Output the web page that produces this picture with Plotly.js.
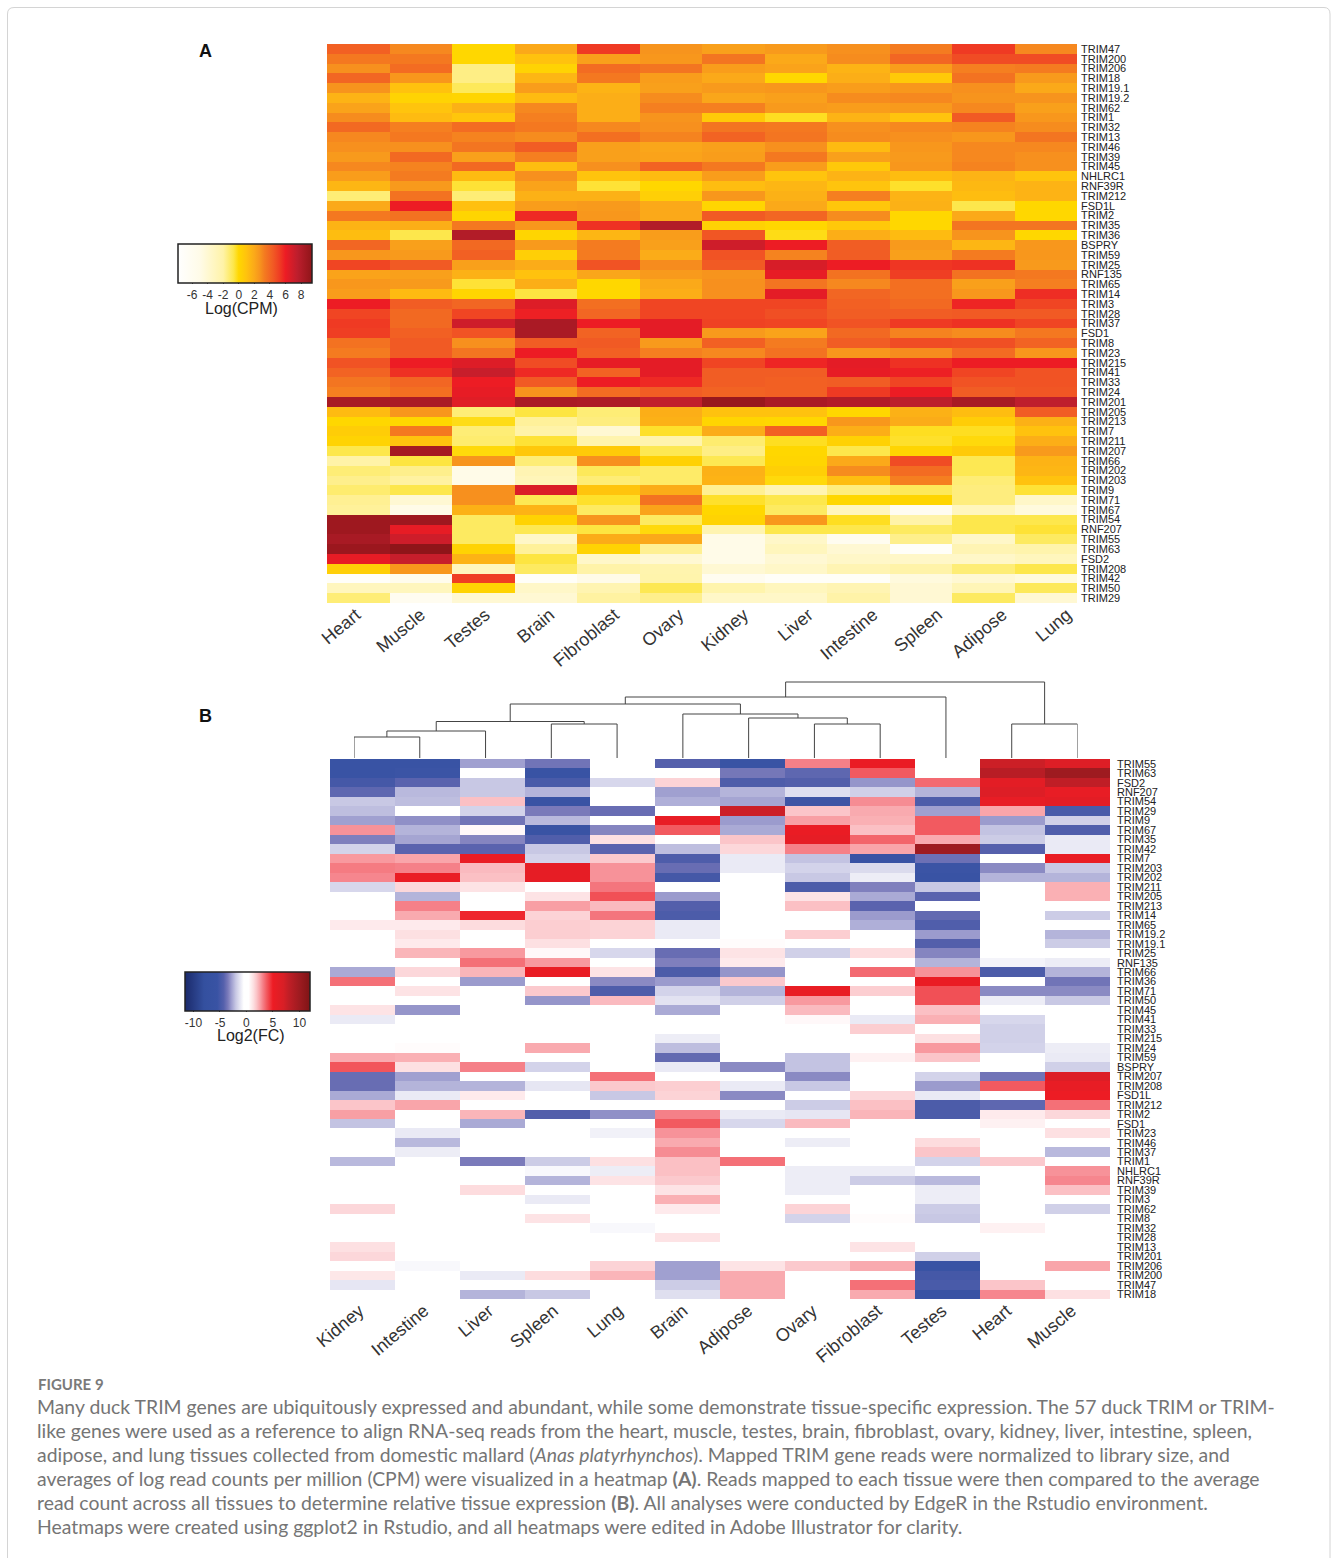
<!DOCTYPE html>
<html><head><meta charset="utf-8">
<script src="https://cdn.plot.ly/plotly-3.0.1.min.js"></script>
<style>html,body{margin:0;padding:0;background:#fff}#c{width:1331px;height:1558px}</style>
</head><body><div id="c"></div>
<script>
const tissuesA=["Heart","Muscle","Testes","Brain","Fibroblast","Ovary","Kidney","Liver","Intestine","Spleen","Adipose","Lung"];
const genesA=["TRIM47","TRIM200","TRIM206","TRIM18","TRIM19.1","TRIM19.2","TRIM62","TRIM1","TRIM32","TRIM13","TRIM46","TRIM39","TRIM45","NHLRC1","RNF39R","TRIM212","FSD1L","TRIM2","TRIM35","TRIM36","BSPRY","TRIM59","TRIM25","RNF135","TRIM65","TRIM14","TRIM3","TRIM28","TRIM37","FSD1","TRIM8","TRIM23","TRIM215","TRIM41","TRIM33","TRIM24","TRIM201","TRIM205","TRIM213","TRIM7","TRIM211","TRIM207","TRIM66","TRIM202","TRIM203","TRIM9","TRIM71","TRIM67","TRIM54","RNF207","TRIM55","TRIM63","FSD2","TRIM208","TRIM42","TRIM50","TRIM29"];
const valuesA=[
[4.2,3,0,2,5.3,2.7,2.3,2.5,2.8,3.3,5.3,3],
[3.4,3.4,0,1,2.3,2.6,3.5,2,2.9,4,4.8,4.8],
[2.8,3.8,-1.5,0.2,3.8,3.5,2.4,2.2,1.6,2.4,3.2,3.3],
[4,2.6,-1.5,1.5,3.4,2.4,2,0,1.8,0.6,3.6,2.5],
[2.7,1,-0.9,2.4,1.6,2.3,2.5,2.6,2.4,2.6,2.8,2],
[1.6,0.2,0.1,1.3,1.8,2.9,2.1,2.3,2.9,3,2.7,2.7],
[2.2,0.9,1.7,3,1.8,3.2,3.2,2.5,2.4,2.5,3,2.3],
[2.9,1.3,0.8,3.2,1.8,2.7,0.6,-0.3,1.6,0.9,4.4,2.6],
[3.9,3.2,3.8,3.4,3,2.8,3.5,3.4,2.8,3,3.1,2.9],
[3,3.4,3.1,2.9,3.7,3.1,4.1,3.5,2.9,2.8,2.6,3.5],
[2.8,2.8,3.5,4.3,2.3,2.1,2.3,2.8,1.3,2.6,3,3],
[2.5,3.9,2.3,3.2,2.3,2.2,2.4,3.4,2.3,2.5,3,2.8],
[3,3.1,3.9,1.2,2.8,4.1,3.4,2.4,0.7,2.6,3.1,2.8],
[2.4,3.3,1.3,2.8,0.9,1.3,2.4,0.9,1.6,1.2,1.6,0.9],
[1.5,2.5,-0.5,2.2,-0.5,0,1.2,1.5,0.9,-0.4,1.4,1.6],
[-1.3,3.6,-1.3,1.7,1.7,0.4,2.6,1.7,3.2,1.6,1.2,1.6],
[2,6,1.1,2.4,2.5,2,0.1,2,0.8,1.7,-0.7,0],
[3.4,3.6,0.1,5.7,2.6,2,4.4,4,2.9,0,2,0],
[1.6,1.8,3.4,2.6,5.5,8,0.3,0,0.7,0,3.5,3.5],
[1.2,-0.7,8,0.1,1.5,2.4,4.5,-0.2,1.8,1.3,2.7,0],
[4,2.3,3.9,2.5,3.3,2.3,7,6,4.3,2.5,1.5,2.6],
[2.6,2.5,4.2,0.4,3.3,1.9,4.6,3.1,4.3,2.3,3.3,2.6],
[5,4.4,2.3,1.9,4.6,2.9,4.4,6.7,6,5.4,5.5,2.5],
[2.2,2.3,1.7,1,2.1,2.5,2.7,6.2,3.6,5.2,3.6,3.4],
[2.6,2.5,-0.5,1.8,0,2,2.8,3.5,3,3.7,2.3,3.2],
[2.4,1.3,0.1,-0.6,0,1.8,2.8,6.3,4,3.7,2.6,5.6],
[6,4.3,4,6.5,3.7,5,5,5,4.2,3.9,5.8,5],
[5,3.9,5,5.9,4,5,5,4.7,4.3,4.3,4.4,4.4],
[5.3,3.9,7,8.3,6,6.3,5.1,5,4.6,5.3,5.5,5],
[5.2,4.2,4.6,8.3,4.1,6.3,2.5,2.2,3.9,3.1,2.9,3.4],
[3.6,4.4,2.8,4.3,4.4,2.5,4.2,3.3,4.3,4.8,4.7,4.1],
[3.3,4.4,3.5,6,4.2,3.2,3,3.6,2.6,2.9,3.8,2.6],
[4.6,6,6.5,4.8,6.2,6.3,5,5.8,6.3,5.5,6,6],
[4.1,5.5,7.2,5.7,4.1,6.3,4.3,4.3,6.2,5.9,5,4.6],
[3.5,4,6,4.4,6,5.7,4.3,4.2,4.3,5,4.6,4.6],
[3.2,3.7,6.2,2.7,3.8,4.3,4.1,4.2,5.3,6,4.3,4.5],
[8.4,8.3,6.4,8.3,8.2,7.4,9,8.3,8,7.6,8.4,7.5],
[1.3,2.6,-1.3,-0.6,-1.3,1.8,1,1,0,1.7,1.2,4.3],
[0,0,-0.2,-1.8,-1.4,1.7,0.1,0,2.6,1.9,0.5,1.7],
[0.5,3.4,-1.3,-2,-4,-0.4,1.9,4.2,1.8,-0.3,-0.3,1],
[0.2,1,-1.2,-0.5,-2.3,-2.3,-1.2,-0.3,0.3,-0.4,-0.1,1.8],
[-0.7,8.5,-0.1,0.7,0.6,-0.8,-1.5,0,-0.7,0.1,0.6,2.5],
[-2,-0.6,2.7,-1.3,2.8,0.3,-0.8,0.1,2,4.8,-0.8,1.6],
[-1.3,-1.6,-5,-2.5,-0.9,-1.1,1.7,0.4,2.9,3.8,-0.8,1.5],
[-1.6,-1.9,-5,-2.8,-1.3,-1.1,1.6,-0.1,1.2,3.2,-1.3,1],
[-1.2,-0.7,2.8,6.6,0.9,1.9,-1.7,-2.5,-1.4,-0.9,-1.4,-0.5],
[-1.7,-4,2.8,-0.8,-0.4,3.6,-0.4,-0.7,0,0.1,-1.4,-3.5],
[-1.8,-5,1.7,1.6,-1,2.2,0,-1,-3,-6,-3,-4.5],
[8.8,8.8,-1,0.2,2.7,-1,0.2,2.6,-0.3,-2,-0.7,-0.7],
[8.8,6.2,-1,-0.8,-0.6,-0.1,-2.4,-0.7,-0.7,-1,-0.7,-0.5],
[8.4,7,-1,-3.5,1.9,2,-5,-3.5,-6,-1.6,-3.5,-1],
[8.9,9.5,0.2,-1.8,0.2,-1.7,-5,-3,-4,-7,-2.5,-2.2],
[6.2,7.2,1.6,-0.6,-3.5,-4,-5,-4,-3.5,-3.5,-3.5,-3],
[0.4,2.6,-3,-1,-2,-2.3,-4,-3.5,-2.5,-2,-1.3,-0.7],
[-7,-5.5,5.2,-7,-5,-2.2,-6,-7,-7,-4.5,-4,-4.5],
[-3,-3,0.2,-3.5,-2.4,-0.8,-2.2,-3,-2.5,-4,-2.7,-0.9],
[-1.3,-6,-4,-4,-1.9,-1.6,-3.5,-3.5,-2,-4,-1,-4]
];
const tissuesB=["Kidney","Intestine","Liver","Spleen","Lung","Brain","Adipose","Ovary","Fibroblast","Testes","Heart","Muscle"];
const genesB=["TRIM55","TRIM63","FSD2","RNF207","TRIM54","TRIM29","TRIM9","TRIM67","TRIM35","TRIM42","TRIM7","TRIM203","TRIM202","TRIM211","TRIM205","TRIM213","TRIM14","TRIM65","TRIM19.2","TRIM19.1","TRIM25","RNF135","TRIM66","TRIM36","TRIM71","TRIM50","TRIM45","TRIM41","TRIM33","TRIM215","TRIM24","TRIM59","BSPRY","TRIM207","TRIM208","FSD1L","TRIM212","TRIM2","FSD1","TRIM23","TRIM46","TRIM37","TRIM1","NHLRC1","RNF39R","TRIM39","TRIM3","TRIM62","TRIM8","TRIM32","TRIM28","TRIM13","TRIM201","TRIM206","TRIM200","TRIM47","TRIM18"];
const valuesB=[
[-5.5,-5.5,-2.8,-3.7,0,-4.3,-5.5,3.1,5.3,0,7.5,6.5],
[-5.5,-5.4,0,-5.5,0.4,0,-3.6,-4.1,3.8,0.2,8.5,10],
[-5,-4.2,-2,-4.8,-1.6,1.6,-4.6,-4.4,-3,3.5,6,8],
[-4.1,-2.3,-2,-2.4,0,-2.8,-2.4,-1.4,-1.8,-2.4,6.5,5.5],
[-2,-2.2,2,-5.5,0,-2.5,-2.7,-5.3,2.9,-4.6,5.5,6],
[-2.2,0,-1.7,-3.5,-3.9,0,7.5,1.9,2.4,-2.8,2.5,-4.8],
[-2.8,-3.1,-3.7,-2.3,-0.3,5.5,-2.9,2.6,2.3,3.8,-2.9,-1.8],
[2.8,-2.4,0.6,-5.5,-3.3,3.8,-2.6,5.3,2,3.8,-2.1,-4.5],
[-3.4,-2.7,-3.3,-4.5,1.3,0,1.9,5.7,3.6,2.4,-1.9,-1.1],
[-1.7,-4.2,-4.2,-2,-4.2,-2.2,1.5,3.1,2.5,10,-4.3,-1.1],
[2.7,2.5,5.4,-1.7,1.8,-4.6,-1.1,-2.1,-5.7,-3.8,0,5.4],
[3.2,3.1,2.1,5.7,2.8,-3.9,-1.1,-1.7,-1.5,-5.4,-3.2,-2],
[3,5.3,2,5.7,2.8,-5,0,-2,-1,-5.5,-2.4,-2.4],
[-1.6,1.5,1.2,0,3.3,0,0,-4.7,-3.4,-2,0,2.3],
[0,-2.4,0,1.2,4,-2.9,0,1.2,-2.6,-4.2,0,2.3],
[0,3.1,0,2.6,2.1,-4.4,0,2,-4.2,0,0,0],
[0,2.4,4.8,1.6,3.3,-4.7,0,0,-2.9,-4,0,-1.9],
[1,1,1.4,1.7,1.6,-1.1,0,0,-2.5,-4.5,0,0],
[0,1.3,0,1.7,1.6,-1.1,0,1.7,0,-2.9,0,-2.4],
[0.3,1,0,1.3,0,0,0.5,0,0,-4.4,0,-1.9],
[0,2.2,2.7,0.6,-1.6,-3.9,1.2,-1.8,1.4,-3.3,0,0.3],
[0,0,3.4,2.7,0,-3.4,1,0,0,-2.4,-0.8,-1],
[-2.6,1.5,2.2,5.4,1.2,-4.7,-3,0,3.5,2.8,-4.7,-2.4],
[3.4,0,-2.9,0,-3.2,-2.9,1.8,0,0,5.3,-0.5,-3.7],
[0,1.2,0,1.8,-4.6,-1.7,-2.4,5.4,1.7,4,-3.2,-3.2],
[0,0,0,-3,2.1,-1.3,-1.8,2.7,0,4,-1,-2],
[1.2,-3,0,0,0,-2.6,0,2.1,0,2,0,0],
[-1.1,0,0,0,0,0,0,0.6,-1.1,2.3,-1.6,0],
[0,0,0,0,0,0,0,0,1.7,0,-1.8,0],
[0,0,0,0,0,-1,0,0,0,1.3,-1.8,0],
[0,0.5,0,2.4,0,-2.2,0,0,0,2.7,-1.7,-1],
[2.4,2.3,0,0,0,-4,0,-2.1,0.8,1.9,0,-1.1],
[3.9,1.3,3.1,-1.7,-0.2,-1.1,-3.2,-2.1,0,0,0,-1.8],
[-3.9,-2.8,0,0,3.4,0,0,-3.2,0,-1.7,-3.7,6.5],
[-3.9,-2.4,-2.4,-1.2,1.8,1.7,-1.1,-2,0,-2.9,3.8,5.5],
[-2.6,-1.1,1,0,-2,1.6,-3.2,0,1.5,-1.1,0,5],
[1.9,2.5,0,0,0,0,0,-1.9,2,-4.7,-4.1,3.4],
[2.6,0.3,2.2,-4.4,-3.1,3.1,-1.1,-1.2,2.2,-4.7,1,1.5],
[-2.1,0,-2.6,0,-0.4,3.8,-1.6,2.1,0,0,0.8,0],
[0,-1.1,0,0,-0.9,2.8,0,0,0,0,0,1.3],
[0,-2.3,0,0,0,2.4,0,-1,0,1.4,0,0],
[0,-1,0,0,0,2.9,0,0.2,0,1.9,0,-2.3],
[-2.3,0,-3.5,-1.9,1.3,2,3.4,0,0,-1.7,1.8,0],
[0,0,0,-0.7,-1,2,0,-1,-1,0,0.3,2.8],
[0,0,0,-2.4,1.2,1.8,0,-1,-1.9,-2.3,0,3],
[0,0,1.4,0,0,1.2,0,-1,0,-1,0,2],
[0,0,0,-1.1,0,2.3,0,0,0,-1,0,0],
[1.5,0,0,0,0,1,0,1.6,0,-1.9,0,-1.8],
[0,0,0,1.2,0,0,0,-1.7,0.5,-2,0,0],
[0,0,0,0,-0.7,0,0,0,0,0,0.8,0],
[0,0,0,0,0,1.2,0,0,0,0,0,0],
[1.3,0,0,-0.2,0,0,-0.3,0,1.2,0,0,0],
[1.5,0,0,0,0,0,0,0,0,-1.8,0,0],
[0,-0.7,0,0,1.6,-2.8,1.2,1.8,2.4,-5.5,0,2.5],
[1.1,0,-1.1,1.4,2.2,-2.8,2.4,0,0,-5,0,0],
[-1.2,0,0,0,0,-1.9,2.4,0,3.4,-4.8,1.9,0],
[0,0,-2.4,-2,0,-1.4,2.4,0,2.4,-5.5,3,1.3]
];
// dendrogram merges over tissuesB: [child, child, height]; a child is a leaf index or "m"+merge index
const merges=[[0,1,21],["m0",2,27],[3,4,34],["m1","m2",36.5],[7,8,34],[6,"m4",40],[5,"m5",44],["m3","m6",54],["m7",9,61],[10,11,34],["m8","m9",76]];
const stopsA=[[-7.8,"#ffffff"],[-5,"#fffbe8"],[-2,"#fff3a8"],[-0.7,"#fde74c"],[0,"#ffd700"],[1,"#ffc20e"],[2,"#fba919"],[2.7,"#f7941d"],[3.3,"#f47b20"],[4.4,"#f15a24"],[5.2,"#ef3e23"],[6,"#ed1c24"],[7.5,"#be1e2d"],[9.4,"#8f1519"]];
const stopsB=[[-11.6,"#1b2a6b"],[-8,"#34509f"],[-5.5,"#3953a4"],[-4.3,"#5560ac"],[-3.5,"#7a7aba"],[-2.8,"#a0a0d0"],[-2,"#c8c8e4"],[-1.2,"#e6e6f3"],[-0.5,"#ffffff"],[0.4,"#ffffff"],[1.3,"#fde0e2"],[1.9,"#fbc5c9"],[2.5,"#f9a5aa"],[3.1,"#f58088"],[3.8,"#f25a60"],[5,"#ed1c24"],[7,"#d81f26"],[8,"#c01e26"],[10,"#9e1b20"],[12,"#7f1416"]];
const captionTitle="FIGURE 9";
const captionLines=[
"Many duck TRIM genes are ubiquitously expressed and abundant, while some demonstrate tissue-specific expression. The 57 duck TRIM or TRIM-",
"like genes were used as a reference to align RNA-seq reads from the heart, muscle, testes, brain, fibroblast, ovary, kidney, liver, intestine, spleen,",
"adipose, and lung tissues collected from domestic mallard (<i>Anas platyrhynchos</i>). Mapped TRIM gene reads were normalized to library size, and",
"averages of log read counts per million (CPM) were visualized in a heatmap <b>(A)</b>. Reads mapped to each tissue were then compared to the average",
"read count across all tissues to determine relative tissue expression <b>(B)</b>. All analyses were conducted by EdgeR in the Rstudio environment.",
"Heatmaps were created using ggplot2 in Rstudio, and all heatmaps were edited in Adobe Illustrator for clarity."];

const W=1331,H=1558;
const fx=p=>p/W, fy=p=>1-p/H;
const scale=s=>{const a=s[0][0],b=s[s.length-1][0];return s.map(d=>[(d[0]-a)/(b-a),d[1]]);};
const cbBase=(x0,x1,y0,y1,vals)=>({orientation:'h',xref:'container',yref:'container',x:fx((x0+x1)/2),xanchor:'center',y:fy(y0),yanchor:'top',
  lenmode:'pixels',len:x1-x0,thicknessmode:'pixels',thickness:y1-y0,xpad:0,ypad:0,outlinecolor:'#222',outlinewidth:1.5,
  tickmode:'array',tickvals:vals,ticktext:vals.map(String),ticks:'outside',ticklen:1,tickcolor:'#444',tickfont:{family:'Liberation Sans',size:12,color:'#333'}});

// dendrogram through the library's own scatter line
const pos=[],dx=[],dy=[];
merges.forEach((m,i)=>{
  const get=c=>typeof c==='number'?[c,0]:pos[+c.slice(1)];
  const [xa,ha]=get(m[0]),[xb,hb]=get(m[1]);
  dx.push(xa,xa,xb,xb,null);dy.push(ha,m[2],m[2],hb,null);
  pos[i]=[(xa+xb)/2,m[2]];
});
const labelTrace=(t,xa,ya)=>({type:'scatter',mode:'markers',x:t,y:t.map(()=>0),xaxis:xa,yaxis:ya,marker:{opacity:0,size:1},showlegend:false,hoverinfo:'skip'});
const traces=[
 {type:'heatmap',x:tissuesA,y:genesA,z:valuesA,zmin:stopsA[0][0],zmax:stopsA[stopsA.length-1][0],colorscale:scale(stopsA),xaxis:'x',yaxis:'y',
  colorbar:cbBase(178,312,244,283,[-6,-4,-2,0,2,4,6,8])},
 {type:'heatmap',x:tissuesB,y:genesB,z:valuesB,zmin:stopsB[0][0],zmax:stopsB[stopsB.length-1][0],colorscale:scale(stopsB),xaxis:'x2',yaxis:'y2',
  colorbar:cbBase(185,310,972,1011,[-10,-5,0,5,10])},
 {type:'scatter',mode:'lines',x:dx,y:dy,xaxis:'x3',yaxis:'y3',line:{color:'#444',width:1},connectgaps:false,showlegend:false,hoverinfo:'skip'},
 labelTrace(tissuesA,'x4','y4'),
 labelTrace(tissuesB,'x5','y5')
];
const catFont={family:'Liberation Sans',size:18,color:'#333'};
const geneFont={family:'Liberation Sans',size:11,color:'#222'};
const xplain=(d,y)=>({domain:d,type:'category',anchor:y,showticklabels:false,ticks:'',showgrid:false,zeroline:false,showline:false,automargin:false});
const xlabel=(d,y)=>({domain:d,type:'category',anchor:y,range:[-0.5,11.5],tickangle:-40,tickfont:catFont,ticks:'',showgrid:false,zeroline:false,showline:false,automargin:false,ticklabelstandoff:-3});
const ya=(d,x,g,s)=>({domain:d,type:'category',anchor:x,side:'right',autorange:'reversed',tickmode:'array',tickvals:g,ticktext:g,tickfont:geneFont,ticks:'',showgrid:false,zeroline:false,showline:false,automargin:false,ticklabelstandoff:s});
const yhidden=(d,x)=>({domain:d,anchor:x,range:[-1,1],visible:false,fixedrange:true});
const note=(t,x,y,f,anchor)=>({text:t,x:fx(x),y:fy(y),xref:'paper',yref:'paper',xanchor:anchor||'center',yanchor:'middle',showarrow:false,font:f});
const capFont={family:'Lato',size:19.4,color:'#757575'};
const layout={width:W,height:H,margin:{l:0,r:0,t:0,b:0,autoexpand:false},paper_bgcolor:'#fff',plot_bgcolor:'rgba(0,0,0,0)',showlegend:false,
 xaxis:xplain([fx(327),fx(1077)],'y'),yaxis:ya([fy(603),fy(44)],'x',genesA,3),
 xaxis2:xplain([fx(330),fx(1110)],'y2'),yaxis2:ya([fy(1299),fy(759)],'x2',genesB,6),
 xaxis3:{domain:[fx(354),fx(1077.5)],range:[0,11],visible:false,fixedrange:true,anchor:'y3'},
 yaxis3:{domain:[fy(758),fy(680)],range:[0,78],visible:false,fixedrange:true,anchor:'x3'},
 xaxis4:xlabel([fx(323.7),fx(1099.3)],'y4'),yaxis4:yhidden([fy(603),fy(44)],'x4'),
 xaxis5:xlabel([fx(327.1),fx(1103.9)],'y5'),yaxis5:yhidden([fy(1299),fy(759)],'x5'),
 shapes:[{type:'path',xref:'paper',yref:'paper',path:`M ${fx(7.5)} 0 L ${fx(7.5)} ${fy(14)} Q ${fx(7.5)} ${fy(7.5)} ${fx(14)} ${fy(7.5)} L ${fx(1324)} ${fy(7.5)} Q ${fx(1330)} ${fy(7.5)} ${fx(1330)} ${fy(14)} L ${fx(1330)} 0`,line:{color:'#d4d4d4',width:1},fillcolor:'rgba(0,0,0,0)'}],
 annotations:[
  note('<b>A</b>',205,51,{family:'Liberation Sans',size:18,color:'#111'}),
  note('<b>B</b>',205,716,{family:'Liberation Sans',size:18,color:'#111'}),
  note('Log(CPM)',241,309,{family:'Liberation Sans',size:16,color:'#222'}),
  note('Log2(FC)',251,1035,{family:'Liberation Sans',size:16,color:'#222'}),
  note('<b>'+captionTitle+'</b>',36,1384,{family:'Lato',size:15,color:'#7a7a7a'},'left'),
  ...captionLines.map((t,i)=>note(t,35,1406+24*i,capFont,'left'))
 ]};
Plotly.newPlot('c',traces,layout,{staticPlot:true,displayModeBar:false});
</script></body></html>
